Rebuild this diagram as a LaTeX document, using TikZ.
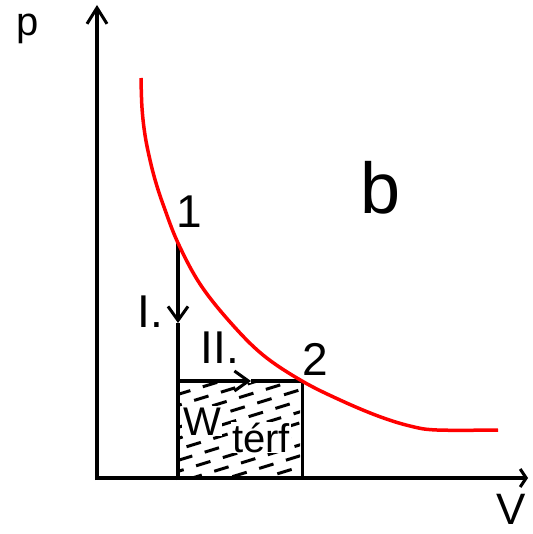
\documentclass[tikz,border=0pt]{standalone}
\usepackage{fontspec}
\setmainfont{Liberation Sans}
\usetikzlibrary{arrows.meta}
\tikzset{
  axisline/.style={line width=4pt},
  procline/.style={line width=4pt},
  curveline/.style={line width=3.5pt, red, line join=round},
  hatchline/.style={line width=3pt, dash pattern=on 15pt off 13pt},
  lab/.style={anchor=base, inner sep=0pt, font=\fontsize{46}{46}\selectfont},
  smalllab/.style={anchor=base, inner sep=1pt, fill=white, font=\fontsize{40}{40}\selectfont},
  bigtip/.style={-{Straight Barb[length=16pt,width=20pt,line width=3pt]}},
  midtip/.style={-{Straight Barb[length=14pt,width=20pt,line width=3pt]}},
}
\begin{document}
\begin{tikzpicture}[x=1pt,y=-1pt]
\useasboundingbox (0,0) rectangle (532,534);
% key points
\coordinate (o) at (97,478);
\coordinate (ytop) at (97,5);
\coordinate (xend) at (528,478);
\coordinate (p1) at (178,243);
\coordinate (p2) at (302,381);
\coordinate (c) at (178,381);
\coordinate (cb) at (178,480);
\coordinate (rb) at (302,478);
\coordinate (a1) at (178,323);
\coordinate (a2) at (251,381);
% hatching
\begin{scope}
  \clip (180,383) rectangle (300,476);
  \foreach \k in {0,...,16} {
    \pgfmathsetmacro{\ph}{mod(\k*9,28)}
    \draw[hatchline, dash phase=\ph pt] (176,{395+\k*11}) -- ++(130,-40);
  }
\end{scope}
% text in the area
\node[smalllab] (lW) at (202,435) {W};
\node[smalllab] (lterf) at (261,452) {térf};
% rectangle edges
\draw[procline] (cb) -- (c);
\draw[line width=3pt] (p2) -- (rb);
% process lines
\draw[procline, midtip] (p1) -- (a1);
\draw[procline] (a1) -- (c);
\draw[procline, midtip] (c) -- (a2);
\draw[procline] (a2) -- (p2);
% axes
\draw[axisline, bigtip] (97,480) -- (ytop);
\draw[axisline, -{Straight Barb[length=6pt,width=18pt,line width=3pt]}] (95,478) -- (xend);
% curve
\draw[curveline] plot[smooth, tension=0.6] coordinates {
 (141,78) (142,108) (145,135) (150,160) (156,183) (164,207)
 (178,243) (200,284) (230,322) (263,355) (302,381)
 (340,400) (378,416) (410,426) (437,430) (498,430)};
% labels
\node[lab, font=\fontsize{40}{40}\selectfont] (lp) at (28,36) {p};
\node[lab, font=\fontsize{44}{44}\selectfont] (lV) at (511,524) {V};
\node[lab] (l1) at (189,227) {1};
\node[lab] (l2) at (315,375) {2};
\node[lab] (lI) at (150,327) {I.};
\node[lab] (lII) at (220,363) {II.};
\node[lab, font=\fontsize{72}{72}\selectfont] (lb) at (381,214) {b};
\end{tikzpicture}
\end{document}
